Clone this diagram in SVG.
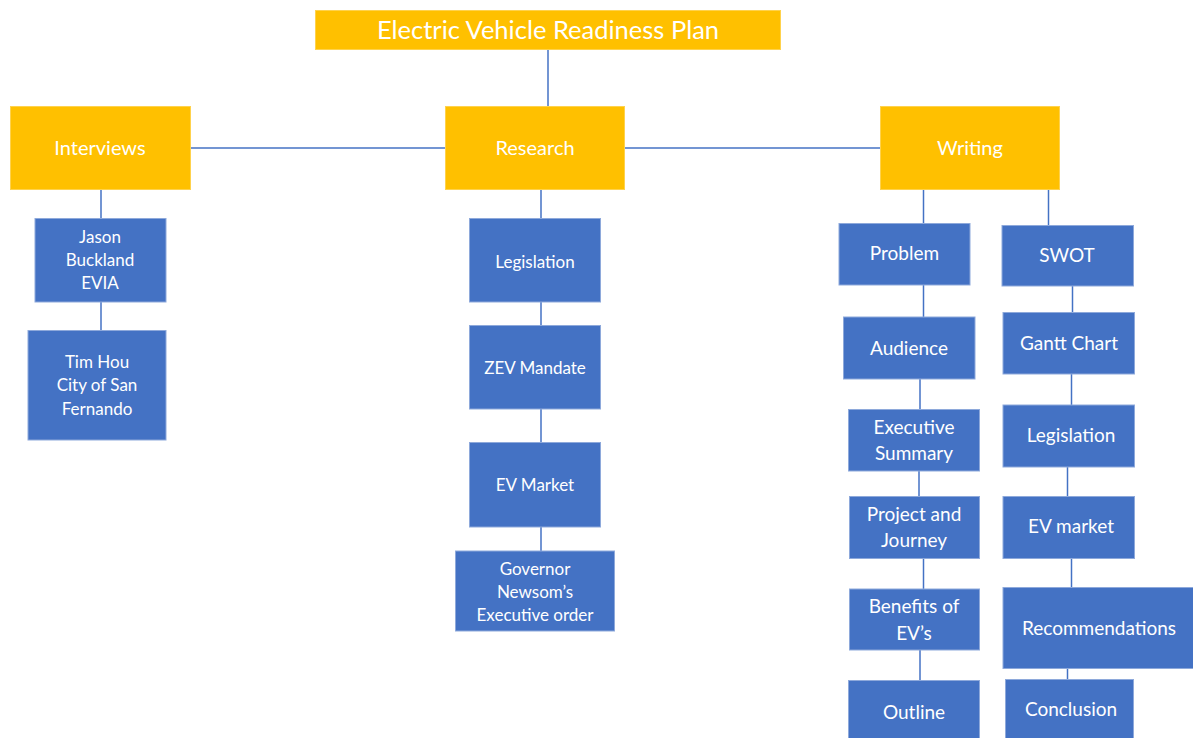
<svg xmlns="http://www.w3.org/2000/svg" width="1193" height="738" viewBox="0 0 1193 738">
  <style>
    .top { fill: #FFC000; stroke: #FFD24D; stroke-width: 1; }
    .sub { fill: #4472C4; stroke: #8EA9DB; stroke-width: 1; }
    .link { stroke: #4472C4; stroke-width: 1.5; fill: none; }
    text { font-family: Lato, "Open Sans", "Liberation Sans", sans-serif; fill: #FFFFFF; text-anchor: middle; }
    .t0 { font-size: 25.5px; }
    .t1 { font-size: 20px; }
    .t2 { font-size: 17px; }
    .t3 { font-size: 19px; }
  </style>
  <rect width="1193" height="738" fill="#FFFFFF"/>

  <!-- connectors -->
  <g id="connectors">
    <line class="link" x1="548" y1="50" x2="548" y2="106"/>
    <line class="link" x1="190" y1="148" x2="445" y2="148"/>
    <line class="link" x1="625" y1="148" x2="880" y2="148"/>
    <!-- interviews branch -->
    <line class="link" x1="101" y1="190" x2="101" y2="218"/>
    <line class="link" x1="101" y1="302" x2="101" y2="330"/>
    <!-- research branch -->
    <line class="link" x1="541" y1="190" x2="541" y2="218"/>
    <line class="link" x1="541" y1="302" x2="541" y2="325"/>
    <line class="link" x1="541" y1="409" x2="541" y2="442"/>
    <line class="link" x1="541" y1="527" x2="541" y2="551"/>
    <!-- writing, left column -->
    <line class="link" x1="923.5" y1="190" x2="923.5" y2="223"/>
    <line class="link" x1="923.5" y1="285" x2="923.5" y2="317"/>
    <line class="link" x1="920" y1="379" x2="920" y2="409"/>
    <line class="link" x1="919" y1="471" x2="919" y2="496"/>
    <line class="link" x1="923.5" y1="558" x2="923.5" y2="589"/>
    <line class="link" x1="920" y1="650" x2="920" y2="680"/>
    <!-- writing, right column -->
    <line class="link" x1="1048.5" y1="190" x2="1048.5" y2="225"/>
    <line class="link" x1="1072.5" y1="286" x2="1072.5" y2="312"/>
    <line class="link" x1="1071.5" y1="374" x2="1071.5" y2="405"/>
    <line class="link" x1="1067.5" y1="467" x2="1067.5" y2="496"/>
    <line class="link" x1="1071.5" y1="558" x2="1071.5" y2="587"/>
    <line class="link" x1="1067.5" y1="668" x2="1067.5" y2="679"/>
  </g>

  <!-- top level -->
  <g id="plan">
    <rect class="top" x="315.5" y="10.5" width="465" height="39"/>
    <text class="t0" x="548" y="39">Electric Vehicle Readiness Plan</text>
  </g>
  <g id="interviews">
    <rect class="top" x="10.5" y="106.5" width="180" height="83"/>
    <text class="t1" x="100" y="155">Interviews</text>
  </g>
  <g id="research">
    <rect class="top" x="445.5" y="106.5" width="179" height="83"/>
    <text class="t1" x="535" y="155">Research</text>
  </g>
  <g id="writing">
    <rect class="top" x="880.5" y="106.5" width="179" height="83"/>
    <text class="t1" x="970" y="155">Writing</text>
  </g>

  <!-- interviews -->
  <g id="jason">
    <rect class="sub" x="35" y="218.5" width="131" height="83.5"/>
    <text class="t2" x="100" y="243">Jason</text>
    <text class="t2" x="100" y="266">Buckland</text>
    <text class="t2" x="100" y="289">EVIA</text>
  </g>
  <g id="tim">
    <rect class="sub" x="28" y="330.5" width="138" height="109.5"/>
    <text class="t2" x="97" y="368">Tim Hou</text>
    <text class="t2" x="97" y="391">City of San</text>
    <text class="t2" x="97" y="415">Fernando</text>
  </g>

  <!-- research -->
  <g id="r-legislation">
    <rect class="sub" x="469.5" y="218.5" width="131" height="83.5"/>
    <text class="t2" x="535" y="268">Legislation</text>
  </g>
  <g id="r-zev">
    <rect class="sub" x="469.5" y="325.5" width="131" height="83.5"/>
    <text class="t2" x="535" y="374">ZEV Mandate</text>
  </g>
  <g id="r-evmarket">
    <rect class="sub" x="469.5" y="442.5" width="131" height="84.5"/>
    <text class="t2" x="535" y="491">EV Market</text>
  </g>
  <g id="r-governor">
    <rect class="sub" x="455.5" y="551" width="159" height="80"/>
    <text class="t2" x="535" y="575">Governor</text>
    <text class="t2" x="535" y="598">Newsom’s</text>
    <text class="t2" x="535" y="621">Executive order</text>
  </g>

  <!-- writing, left column -->
  <g id="w-problem">
    <rect class="sub" x="839" y="223.5" width="131" height="61.5"/>
    <text class="t3" x="904.5" y="260">Problem</text>
  </g>
  <g id="w-audience">
    <rect class="sub" x="843.5" y="317" width="131.5" height="62"/>
    <text class="t3" x="909" y="355">Audience</text>
  </g>
  <g id="w-executive">
    <rect class="sub" x="848.5" y="409.5" width="131" height="61.5"/>
    <text class="t3" x="914" y="434">Executive</text>
    <text class="t3" x="914" y="460">Summary</text>
  </g>
  <g id="w-project">
    <rect class="sub" x="849.5" y="496.5" width="130" height="62"/>
    <text class="t3" x="914" y="521">Project and</text>
    <text class="t3" x="914" y="547">Journey</text>
  </g>
  <g id="w-benefits">
    <rect class="sub" x="849.5" y="589" width="130" height="61"/>
    <text class="t3" x="914" y="613">Benefits of</text>
    <text class="t3" x="914" y="640">EV’s</text>
  </g>
  <g id="w-outline">
    <rect class="sub" x="848.5" y="680.5" width="131" height="58"/>
    <text class="t3" x="914" y="719">Outline</text>
  </g>

  <!-- writing, right column -->
  <g id="w-swot">
    <rect class="sub" x="1002" y="225.5" width="131.5" height="60.5"/>
    <text class="t3" x="1067" y="262">SWOT</text>
  </g>
  <g id="w-gantt">
    <rect class="sub" x="1003" y="312.5" width="131.5" height="61.5"/>
    <text class="t3" x="1069" y="350">Gantt Chart</text>
  </g>
  <g id="w-legislation">
    <rect class="sub" x="1003" y="405" width="131.5" height="62"/>
    <text class="t3" x="1071" y="442">Legislation</text>
  </g>
  <g id="w-evmarket">
    <rect class="sub" x="1003" y="496.5" width="131.5" height="62"/>
    <text class="t3" x="1071" y="533">EV market</text>
  </g>
  <g id="w-recommendations">
    <rect class="sub" x="1003" y="587.5" width="192" height="81"/>
    <text class="t3" x="1099" y="635">Recommendations</text>
  </g>
  <g id="w-conclusion">
    <rect class="sub" x="1005.5" y="679.5" width="128" height="60"/>
    <text class="t3" x="1071" y="716">Conclusion</text>
  </g>
</svg>
